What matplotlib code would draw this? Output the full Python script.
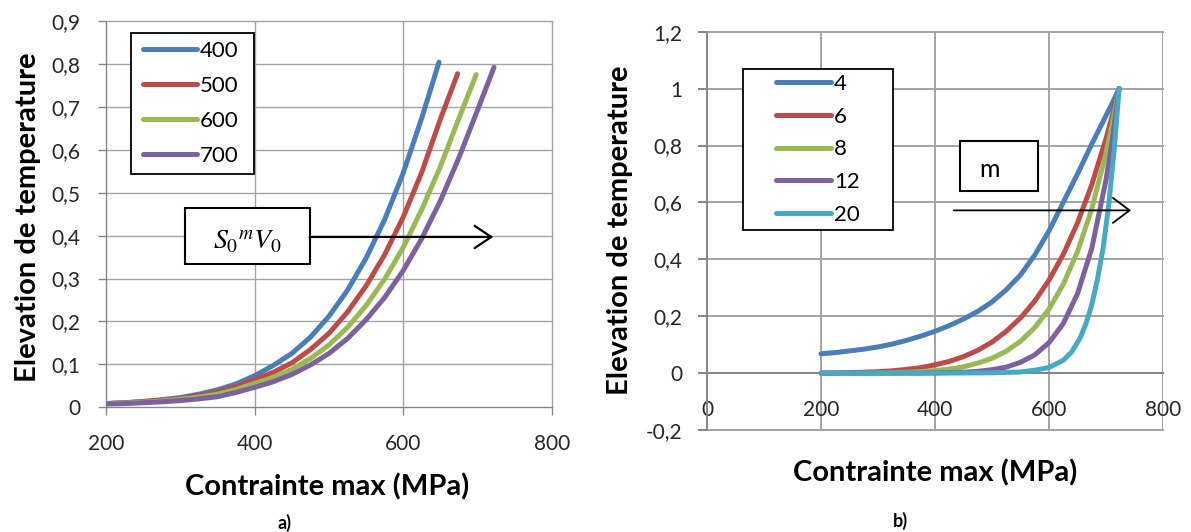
import matplotlib
matplotlib.use('Agg')
import matplotlib.pyplot as plt
from matplotlib.patches import Rectangle
from matplotlib.legend_handler import HandlerLine2D
from matplotlib.lines import Line2D
from matplotlib.ticker import FuncFormatter

plt.rcParams['font.family'] = ['Lato', 'DejaVu Sans']
plt.rcParams['mathtext.fontset'] = 'stix'

# ---- a) elevation vs contrainte, for S0^m V0 = 400..700
labels_a = ['400', '500', '600', '700']
sig_400 = [200, 225, 250, 275, 300, 325, 350, 375, 400, 425, 450, 475, 500, 525, 550, 575, 600, 625, 648]
elev_400 = [0.008, 0.010, 0.013, 0.017, 0.022, 0.030, 0.040, 0.054, 0.073, 0.097, 0.125, 0.163,
            0.212, 0.273, 0.348, 0.438, 0.547, 0.676, 0.805]
sig_500 = [200, 225, 250, 275, 300, 325, 350, 375, 400, 425, 450, 475, 500, 525, 550, 575, 600, 625, 650, 673]
elev_500 = [0.008, 0.010, 0.012, 0.016, 0.020, 0.027, 0.035, 0.048, 0.064, 0.081, 0.103, 0.134,
            0.172, 0.222, 0.283, 0.356, 0.444, 0.549, 0.673, 0.778]
sig_600 = [200, 225, 250, 275, 300, 325, 350, 375, 400, 425, 450, 475, 500, 525, 550, 575, 600, 625, 650, 675, 698]
elev_600 = [0.008, 0.009, 0.011, 0.014, 0.018, 0.023, 0.030, 0.041, 0.055, 0.069, 0.088, 0.113,
            0.145, 0.186, 0.237, 0.299, 0.373, 0.462, 0.562, 0.675, 0.776]
sig_700 = [200, 225, 250, 275, 300, 325, 350, 375, 400, 425, 450, 475, 500, 525, 550, 575, 600, 625, 650, 675, 700, 722]
elev_700 = [0.007, 0.008, 0.010, 0.012, 0.015, 0.019, 0.024, 0.034, 0.046, 0.059, 0.076, 0.098,
            0.125, 0.160, 0.204, 0.256, 0.319, 0.394, 0.482, 0.583, 0.694, 0.793]

# ---- b) elevation vs contrainte, for m = 4..20
labels_b = ['4', '6', '8', '12', '20']
sig_b = [200, 225, 250, 275, 300, 325, 350, 375, 400, 425, 450, 475, 500, 525, 550, 575,
         600, 625, 650, 675, 700, 710, 723]
elev_m4 = [0.068, 0.072, 0.078, 0.084, 0.092, 0.102, 0.115, 0.130, 0.147, 0.167, 0.190, 0.217,
           0.250, 0.293, 0.345, 0.415, 0.500, 0.600, 0.700, 0.805, 0.905, 0.945, 1.0]
elev_m6 = [0.000, 0.001, 0.002, 0.003, 0.005, 0.008, 0.013, 0.019, 0.029, 0.041, 0.058, 0.080,
           0.109, 0.147, 0.194, 0.253, 0.327, 0.417, 0.528, 0.662, 0.824, 0.897, 1.0]
elev_m8 = [0.000, 0.000, 0.000, 0.000, 0.001, 0.002, 0.003, 0.005, 0.009, 0.014, 0.022, 0.035,
           0.052, 0.077, 0.112, 0.160, 0.225, 0.312, 0.427, 0.577, 0.772, 0.865, 1.0]
elev_m12 = [0.0, 0.0, 0.0, 0.0, 0.0, 0.0, 0.0, 0.0, 0.001, 0.002, 0.003, 0.006,
            0.012, 0.021, 0.038, 0.064, 0.107, 0.174, 0.279, 0.438, 0.679, 0.804, 1.0]
sig_m20 = [200, 300, 400, 500, 550, 575, 600, 625, 640, 655, 665, 675, 685, 695, 705, 715, 723]
elev_m20 = [0.0, 0.0, 0.0, 0.001, 0.004, 0.010, 0.020, 0.045, 0.075, 0.125, 0.175, 0.240,
            0.330, 0.440, 0.595, 0.800, 1.0]

colors = ['#4A7EBB', '#BE4B48', '#98B954', '#7D60A0', '#46AAC5']
GRID = '#A3A3A3'
AXIS = '#868686'

W, H = 1191, 532
def fx(px):
    return px / W
def fy(py):
    return 1 - py / H

def comma_fmt(v, pos):
    return ('%g' % round(v, 2)).replace('.', ',')

fig = plt.figure(figsize=(W / 100, H / 100), dpi=100)

# ================= panel a =================
axa = fig.add_axes([fx(106), fy(407), fx(552) - fx(106), fy(21.5) - fy(407)])
for s, e, lab, c in zip([sig_400, sig_500, sig_600, sig_700],
                        [elev_400, elev_500, elev_600, elev_700], labels_a, colors):
    axa.plot(s, e, color=c, lw=3.6, label=lab, solid_capstyle='round',
             solid_joinstyle='round', zorder=3)
axa.set_xlim(200, 800)
axa.set_ylim(0, 0.9)
axa.set_xticks([200, 400, 600, 800])
axa.set_yticks([0, 0.1, 0.2, 0.3, 0.4, 0.5, 0.6, 0.7, 0.8, 0.9])
axa.yaxis.set_major_formatter(FuncFormatter(comma_fmt))
axa.grid(color=GRID, lw=1.0)
axa.set_axisbelow(True)
for l in axa.get_xgridlines() + axa.get_ygridlines():
    l.set_clip_on(False)
axa.spines['top'].set_visible(False)
axa.spines['right'].set_visible(False)
axa.spines['left'].set_color(AXIS)
axa.spines['bottom'].set_color(AXIS)
axa.tick_params(length=5.5, width=1.0, color=AXIS, labelsize=15, labelcolor='#262626')
axa.tick_params(axis='y', pad=13)
axa.tick_params(axis='x', pad=14)

hm = {Line2D: HandlerLine2D(xpad=0.18)}
axa.legend(loc='upper left', bbox_to_anchor=(fx(131), fy(38), fx(254) - fx(131), 0.01),
           bbox_transform=fig.transFigure, mode='expand', borderaxespad=0,
           fontsize=16, frameon=True, fancybox=False, edgecolor='black',
           framealpha=1, borderpad=0.36, labelspacing=0.68, handlelength=2.61,
           handletextpad=0.14, handler_map=hm).get_frame().set_linewidth(1.3)

axa.add_patch(Rectangle((306, 0.334), 168, 0.131, fill=True, fc='white',
                        ec='black', lw=1.5, zorder=5))
axa.text(390, 0.385, r'$S_0{}^{m}V_0$', fontsize=20, ha='center', va='center', zorder=6)
axa.annotate('', xy=(721, 0.397), xytext=(474, 0.397), zorder=6,
             arrowprops=dict(arrowstyle='->,head_length=0.6,head_width=0.4',
                             lw=1.6, color='black', mutation_scale=20,
                             shrinkA=0, shrinkB=0))

fig.text(fx(28), fy(217), 'Elevation de temperature', rotation=90, ha='center',
         va='center', fontsize=21, fontweight='bold')
fig.text(fx(327), fy(487), 'Contrainte max (MPa)', ha='center', va='center',
         fontsize=21, fontweight='bold')
fig.text(fx(285), fy(523), 'a)', ha='center', va='center', fontsize=13, fontweight='bold')

# ================= panel b =================
axb = fig.add_axes([fx(707), fy(430), fx(1163) - fx(707), fy(31.7) - fy(430)])
for s, e, lab, c in zip([sig_b, sig_b, sig_b, sig_b, sig_m20],
                        [elev_m4, elev_m6, elev_m8, elev_m12, elev_m20], labels_b, colors):
    axb.plot(s, e, color=c, lw=3.6, label=lab, solid_capstyle='round',
             solid_joinstyle='round', zorder=3)
axb.set_xlim(0, 800)
axb.set_ylim(-0.2, 1.2)
axb.set_xticks([0, 200, 400, 600, 800])
axb.set_yticks([-0.2, 0, 0.2, 0.4, 0.6, 0.8, 1.0, 1.2])
axb.yaxis.set_major_formatter(FuncFormatter(comma_fmt))
axb.grid(color=GRID, lw=1.4)
axb.set_axisbelow(True)
for l in axb.get_xgridlines() + axb.get_ygridlines():
    l.set_clip_on(False)
axb.spines['top'].set_visible(False)
axb.spines['right'].set_visible(False)
axb.spines['bottom'].set_position(('data', 0))
axb.spines['left'].set_color(AXIS)
axb.spines['bottom'].set_color(AXIS)
axb.spines['left'].set_linewidth(1.4)
axb.spines['bottom'].set_linewidth(1.4)
axb.tick_params(axis='y', length=6.3, width=1.4, color=AXIS, labelsize=15,
                labelcolor='#262626', pad=11.5)
axb.tick_params(axis='x', length=0, labelsize=15, labelcolor='#262626', pad=19.5)

hmb = {Line2D: HandlerLine2D(xpad=1.23)}
axb.legend(loc='upper left', bbox_to_anchor=(fx(743), fy(74), fx(893) - fx(743), 0.01),
           bbox_transform=fig.transFigure, mode='expand', borderaxespad=0,
           fontsize=16, frameon=True, fancybox=False, edgecolor='black',
           framealpha=1, borderpad=0.24, labelspacing=0.57, handlelength=3.7,
           handletextpad=0.15, handler_map=hmb).get_frame().set_linewidth(1.3)

axb.add_patch(Rectangle((444, 0.640), 137, 0.175, fill=True, fc='white',
                        ec='black', lw=1.5, zorder=5))
axb.text(496, 0.715, 'm', fontsize=18, ha='center', va='center', zorder=6)
axb.annotate('', xy=(744, 0.572), xytext=(433, 0.572), zorder=6,
             arrowprops=dict(arrowstyle='->,head_length=0.6,head_width=0.45',
                             lw=1.3, color='black', mutation_scale=20,
                             shrinkA=0, shrinkB=0))

fig.text(fx(620), fy(230), 'Elevation de temperature', rotation=90, ha='center',
         va='center', fontsize=21, fontweight='bold')
fig.text(fx(935), fy(473), 'Contrainte max (MPa)', ha='center', va='center',
         fontsize=21, fontweight='bold')
fig.text(fx(900), fy(521), 'b)', ha='center', va='center', fontsize=13, fontweight='bold')

fig.savefig('out.png', dpi=100)
